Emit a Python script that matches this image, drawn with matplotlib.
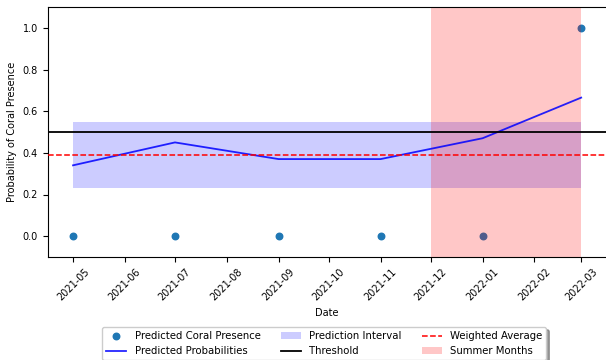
import matplotlib
matplotlib.use("Agg")
import matplotlib.pyplot as plt
import matplotlib.dates as mdates
import pandas as pd
import numpy as np

dates = ["2021-05-01", "2021-07-01", "2021-09-01", "2021-11-01", "2022-01-01", "2022-03-01"]
presence = [0, 0, 0, 0, 0, 1]
probabilities = [0.34, 0.45, 0.37, 0.37, 0.47, 0.665]
interval_lower = 0.23
interval_upper = 0.55
threshold = 0.5
weighted_average = 0.39
summer_start = "2021-12-01"
summer_end = "2022-03-01"

plt.rcParams['font.size'] = 7
plt.rcParams['font.family'] = ['DejaVu Sans']

x = pd.to_datetime(dates)

fig = plt.figure(figsize=(6.06, 3.6), dpi=100)
ax = fig.add_axes([47.6/606, 103/360, 559/606, 250/360])

ax.scatter(x, presence, color='#1f77b4', s=22, label='Predicted Coral Presence', zorder=1)
ax.plot(x, probabilities, color='blue', lw=1.3, alpha=0.85, label='Predicted Probabilities', zorder=3)
ax.fill_between(x, interval_lower, interval_upper, color='blue', alpha=0.2, lw=0, label='Prediction Interval', zorder=1)
ax.axhline(threshold, color='black', lw=1.3, label='Threshold', zorder=3)
ax.axhline(weighted_average, color='red', ls='--', lw=1.1, label='Weighted Average', zorder=3)
ax.axvspan(pd.Timestamp(summer_start), pd.Timestamp(summer_end), color='red', alpha=0.22, lw=0, label='Summer Months', zorder=2)

ax.set_ylim(-0.1, 1.1)
ax.set_xlim(x[0] - pd.Timedelta(days=15.2), x[-1] + pd.Timedelta(days=15.2))
ax.xaxis.set_major_locator(mdates.MonthLocator())
ax.xaxis.set_major_formatter(mdates.DateFormatter('%Y-%m'))
ax.set_yticks([0.0, 0.2, 0.4, 0.6, 0.8, 1.0])
plt.setp(ax.get_xticklabels(), rotation=45)
ax.set_xlabel('Date')
ax.set_ylabel('Probability of Coral Presence')

ax.legend(loc='upper center', bbox_to_anchor=(0.495, -0.26), ncol=3, fontsize=7.3, shadow=True)

fig.savefig('out.png', dpi=100)
